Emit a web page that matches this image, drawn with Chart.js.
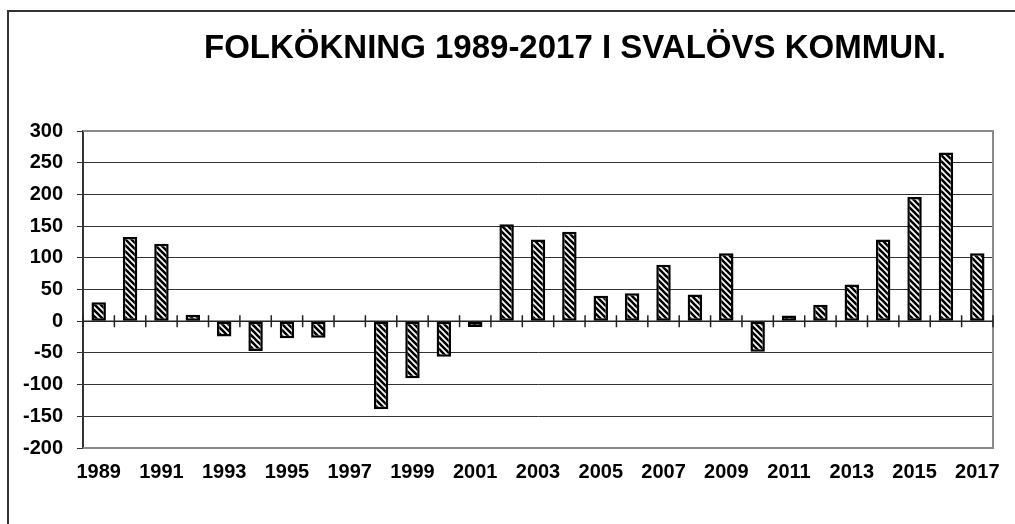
<!DOCTYPE html>
<html>
<head>
<meta charset="utf-8">
<script src="https://cdn.jsdelivr.net/npm/chart.js@4.4.1/dist/chart.umd.min.js"></script>
<style>
  body { margin: 0; background: #fff; }
  #wrap { position: relative; width: 1015px; height: 524px; overflow: hidden; }
  #frame { position: absolute; left: 7px; top: 10px; width: 2000px; height: 2000px;
           border-left: 2px solid #333; border-top: 2px solid #333; }
  #myChart { position: absolute; left: 0; top: 0; }
</style>
</head>
<body>
<div id="wrap">
  <div id="frame"></div>
  <canvas id="myChart" width="1015" height="524"></canvas>
</div>
<script>
// data
var years = [1989, 1990, 1991, 1992, 1993, 1994, 1995, 1996, 1997, 1998,
  1999, 2000, 2001, 2002, 2003, 2004, 2005, 2006, 2007, 2008,
  2009, 2010, 2011, 2012, 2013, 2014, 2015, 2016, 2017];
var folkokning = [30, 133, 122, 10, -24, -47, -27, -26, 0, -139,
  -90, -56, -9, 153, 129, 141, 40, 44, 89, 42,
  107, -48, 9, 26, 58, 129, 196, 266, 107];
var yTicks = [-200, -150, -100, -50, 0, 50, 100, 150, 200, 250, 300];
var titel = 'FOLKÖKNING 1989-2017 I SVALÖVS KOMMUN.';

var FONT = '"Liberation Sans", Arial, sans-serif';

// diagonal hatch like the excel fill
function hatch() {
  var s = 6;
  var c = document.createElement('canvas');
  c.width = s; c.height = s;
  var g = c.getContext('2d');
  g.fillStyle = '#fff';
  g.fillRect(0, 0, s, s);
  g.strokeStyle = '#000';
  g.lineWidth = 2.6;
  g.beginPath();
  g.moveTo(-1, -1); g.lineTo(s + 1, s + 1);
  g.moveTo(-1, s - 1); g.lineTo(1, s + 1);
  g.moveTo(s - 1, -1); g.lineTo(s + 1, 1);
  g.stroke();
  return g.createPattern(c, 'repeat');
}

// title, plot frame and the little ticks on the zero line
var extras = {
  id: 'extras',
  beforeDatasetsDraw: function (chart) {
    var ctx = chart.ctx, a = chart.chartArea;
    var x = chart.scales.x, y = chart.scales.y;
    ctx.save();
    ctx.strokeStyle = '#8a8a8a';
    ctx.lineWidth = 2;
    ctx.beginPath();
    ctx.moveTo(a.left, a.top); ctx.lineTo(a.right, a.top);
    ctx.lineTo(a.right, a.bottom); ctx.lineTo(a.left, a.bottom);
    ctx.stroke();
    var y0 = y.getPixelForValue(0);
    ctx.strokeStyle = '#222';
    ctx.lineWidth = 1.5;
    ctx.beginPath();
    ctx.moveTo(a.left, y0); ctx.lineTo(a.right, y0);
    for (var i = 0; i <= years.length; i++) {
      var px = x.getPixelForValue(i - 0.5);
      ctx.moveTo(px, y0 - 6); ctx.lineTo(px, y0 + 6);
    }
    ctx.stroke();
    ctx.restore();
  },
  afterDraw: function (chart) {
    var ctx = chart.ctx;
    ctx.save();
    ctx.fillStyle = '#000';
    ctx.font = 'bold 33px ' + FONT;
    ctx.textAlign = 'center';
    ctx.textBaseline = 'alphabetic';
    ctx.fillText(titel, 575, 58);
    ctx.restore();
  }
};

var ctx = document.getElementById('myChart');
var myChart = new Chart(ctx, {
  type: 'bar',
  data: {
    labels: years.map(String),
    datasets: [{
      label: 'Folkökning',
      data: folkokning,
      backgroundColor: hatch(),
      borderColor: '#000',
      borderWidth: 2.5,
      borderSkipped: false,
      categoryPercentage: 1,
      barPercentage: 0.46
    }]
  },
  options: {
    responsive: false,
    animation: false,
    layout: { padding: { left: 23, right: 22, top: 131, bottom: 28 } },
    plugins: { legend: { display: false }, tooltip: { enabled: false }, title: { display: false } },
    scales: {
      x: {
        offset: true,
        grid: { display: false, drawTicks: false },
        border: { display: false },
        ticks: {
          autoSkip: false, maxRotation: 0, padding: 12,
          color: '#000', font: { family: FONT, size: 20, weight: 'bold' },
          callback: function (v, i) { return i % 2 === 0 ? years[i] : ''; }
        }
      },
      y: {
        min: -200, max: 300,
        afterFit: function (s) { s.width = 60; },
        afterBuildTicks: function (s) { s.ticks = yTicks.map(function (v) { return { value: v }; }); },
        grid: {
          color: function (c) { return (c.tick && (c.tick.value === 300 || c.tick.value === -200 || c.tick.value === 0)) ? 'rgba(0,0,0,0)' : '#333'; },
          tickColor: '#333',
          tickLength: 6,
          lineWidth: 1
        },
        border: { display: true, color: '#333', width: 2 },
        ticks: {
          padding: 14, color: '#000',
          font: { family: FONT, size: 20, weight: 'bold' }
        }
      }
    }
  },
  plugins: [extras]
});
</script>
</body>
</html>
